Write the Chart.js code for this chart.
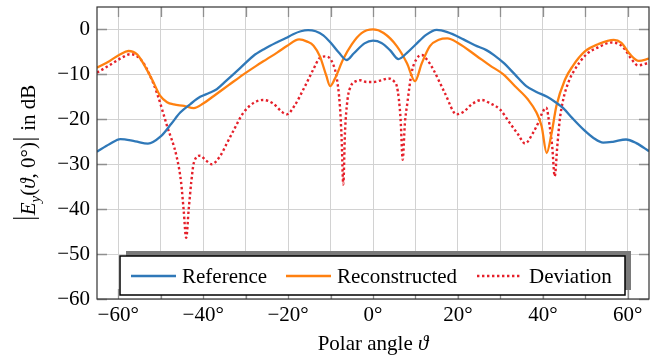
<!DOCTYPE html>
<html>
<head>
<meta charset="utf-8">
<script src="https://cdn.jsdelivr.net/npm/chart.js@4/dist/chart.umd.min.js"></script>
<style>
  html, body { margin: 0; padding: 0; background: #fff; }
  canvas { display: block; }
</style>
</head>
<body>
<canvas id="myChart" width="659" height="360"></canvas>
<script>
// angles in degrees, levels in dB
const refAngle = [-65, -62, -59.5, -56, -53, -50, -47.5, -45.4, -43, -40.7, -38.5, -36.8, -35, -32.9, -30.5, -28.2, -25.5, -22.7, -20.5, -18.8, -17, -15.3, -13.5, -11.7, -10, -8, -6.2, -4.5, -2, 0, 2, 4, 6, 8, 10, 12.5, 15, 17.5, 21.3, 24, 26.7, 28.5, 30.7, 33.4, 36.1, 38.5, 41, 43, 44.8, 47, 49.6, 52, 54.2, 56.5, 59.6, 62, 65];
const refValue = [-27.2, -25.5, -24.4, -24.9, -25.4, -23.8, -21, -18.5, -16.6, -15.0, -14.1, -13.3, -11.8, -10.0, -7.9, -5.9, -4.3, -2.9, -1.9, -1.05, -0.4, -0.15, -0.4, -1.3, -2.9, -5.2, -6.8, -5.3, -3.1, -2.5, -3.0, -4.6, -6.6, -5.2, -3.4, -1.2, -0.1, -0.6, -2.2, -3.5, -4.6, -5.7, -7.4, -10.0, -12.6, -13.9, -15.0, -16.2, -17.5, -19.8, -22.3, -24.2, -25.2, -25.0, -24.5, -25.3, -27.1];

const recAngle = [-65, -62, -59.5, -57.6, -55.5, -54, -52, -50.1, -48.5, -46.9, -44.5, -42.2, -40, -37.5, -34, -30.5, -27.5, -25, -22.5, -20.3, -17.4, -15.5, -14, -12.5, -11, -10.1, -9, -7, -5, -2.7, 0, 2.5, 5.6, 8, 9.9, 11.5, 13.4, 15.5, 17.5, 20, 24.4, 27.5, 30.7, 33.4, 36.5, 38.5, 39.7, 40.9, 42, 43.2, 45.2, 47, 49.9, 53, 56.7, 58.5, 60.5, 62.6, 65];
const recValue = [-8.5, -7.0, -5.5, -4.8, -5.6, -7.7, -11.2, -14.8, -16.2, -16.7, -17.0, -17.5, -16.5, -14.8, -12.4, -10, -8.1, -6.6, -5.1, -3.7, -2.2, -2.7, -3.6, -6.0, -10.3, -12.6, -11.0, -6.6, -3.3, -0.8, 0, -0.8, -3.7, -7.5, -11.5, -7.5, -3.7, -2.3, -2.0, -3.0, -5.9, -8.0, -10.0, -12.6, -15.6, -18.5, -21.5, -27.5, -23.4, -17.0, -11.2, -8.2, -4.9, -3.3, -2.3, -3.0, -5.5, -7.0, -6.5];

const devAngle = [-65, -63, -61.1, -59, -57.2, -55.5, -54.1, -52.5, -50.9, -48.5, -46.2, -45.2, -44.6, -44, -43.4, -42.8, -42.2, -40.7, -39.3, -38, -36, -34.5, -32.9, -30.5, -28, -25.9, -23.5, -21.5, -20.3, -18.5, -16, -14, -12.5, -11, -9.5, -8.5, -7.8, -7.4, -7, -6.6, -6, -5.2, -4, -3.1, -1.5, 0, 2, 3.6, 5, 5.6, 6.1, 6.5, 7, 7.5, 8.1, 9.1, 10.3, 11.5, 12.8, 14.2, 16.9, 19.7, 21.5, 23.2, 25.6, 27.5, 29.9, 32.2, 34.2, 35.8, 37.7, 38.9, 39.7, 40.8, 41.6, 42.2, 42.8, 43.4, 44, 44.8, 46, 47.1, 50.3, 53, 56.2, 58, 59.3, 60.8, 62.4, 65];
const devValue = [-9.6, -8.5, -7.4, -6.2, -5.5, -6.0, -7.4, -10.3, -14.1, -21.5, -28.5, -34, -40.1, -46.4, -40, -34, -29.7, -28.1, -29.2, -30.0, -28.2, -25.5, -22.6, -18.5, -16.3, -15.7, -16.5, -18.3, -18.9, -17.0, -12.6, -8.8, -6.3, -6.0, -7.5, -11, -17, -24, -34.5, -23, -15.6, -12.6, -11.5, -11.3, -11.7, -11.7, -11.3, -10.9, -11.6, -12.6, -15.6, -20, -29, -21, -16.3, -9.6, -6.5, -5.7, -6.8, -8.9, -14.1, -18.9, -18.2, -16.7, -15.7, -16.4, -17.8, -20.8, -23.4, -25.4, -23, -20.8, -18.9, -17.4, -21.5, -26, -32.7, -26, -20, -15.6, -11.8, -9.6, -5.5, -4.0, -2.9, -3.3, -4.4, -6.5, -8.0, -7.4];

const xTicks = [-60, -50, -40, -30, -20, -10, 0, 10, 20, 30, 40, 50, 60];
const yTicks = [-60, -50, -40, -30, -20, -10, 0];
const seriesNames = ['Reference', 'Reconstructed', 'Deviation'];

const BLUE = '#2f78b8';
const ORANGE = '#ff8010';
const RED = '#e5202a';
const SERIF = '"Liberation Serif", "Times New Roman", serif';
const FS = 21;

function pts(xs, ys) {
    return xs.map((x, i) => ({ x: x, y: ys[i] }));
}
function num(v) {
    return v < 0 ? '\u2212' + Math.abs(v) : '' + v;
}

// frame, inner ticks, legend and axis titles
const decor = {
    id: 'decor',
    afterDatasetsDraw(chart) {
        const ctx = chart.ctx;
        const a = chart.chartArea;
        const xs = chart.scales.x, ys = chart.scales.y;
        ctx.save();
        // inner tick marks
        ctx.strokeStyle = '#8f8f8f';
        ctx.lineWidth = 1.3;
        ctx.beginPath();
        xTicks.forEach(v => {
            const px = Math.round(xs.getPixelForValue(v)) + 0.5;
            ctx.moveTo(px, a.top); ctx.lineTo(px, a.top + 10);
            ctx.moveTo(px, a.bottom); ctx.lineTo(px, a.bottom - 10);
        });
        yTicks.forEach(v => {
            const py = Math.round(ys.getPixelForValue(v)) + 0.5;
            ctx.moveTo(a.left, py); ctx.lineTo(a.left + 10, py);
            ctx.moveTo(a.right, py); ctx.lineTo(a.right - 10, py);
        });
        ctx.stroke();
        // frame
        ctx.strokeStyle = '#333';
        ctx.lineWidth = 1.2;
        ctx.strokeRect(a.left, a.top, a.right - a.left, a.bottom - a.top);

        // legend with shadow
        const lx = a.left + 23, ly = a.bottom - 43, lw = a.right - a.left - 47, lh = 39;
        ctx.fillStyle = '#7a7a7a';
        ctx.fillRect(lx + 6, ly - 5, lw, lh);
        ctx.fillStyle = '#fff';
        ctx.fillRect(lx, ly, lw, lh);
        ctx.strokeStyle = '#000';
        ctx.lineWidth = 1.5;
        ctx.strokeRect(lx, ly, lw, lh);
        const cy = ly + 20;
        const items = [
            { c: BLUE, dash: [], x0: 131, x1: 176, tx: 182 },
            { c: ORANGE, dash: [], x0: 286, x1: 331, tx: 337 },
            { c: RED, dash: [2.4, 2.6], x0: 477, x1: 522, tx: 529 }
        ];
        ctx.font = FS + 'px ' + SERIF;
        ctx.textBaseline = 'middle';
        items.forEach((it, i) => {
            ctx.strokeStyle = it.c;
            ctx.lineWidth = 2.4;
            ctx.setLineDash(it.dash);
            ctx.beginPath();
            ctx.moveTo(it.x0, cy); ctx.lineTo(it.x1, cy);
            ctx.stroke();
            ctx.setLineDash([]);
            ctx.fillStyle = '#000';
            ctx.fillText(seriesNames[i], it.tx, cy + 1);
        });

        // x title
        ctx.textAlign = 'left';
        ctx.textBaseline = 'alphabetic';
        ctx.font = FS + 'px ' + SERIF;
        const w1 = ctx.measureText('Polar angle ').width;
        ctx.font = 'italic ' + FS + 'px ' + SERIF;
        const w2 = ctx.measureText('\u03D1').width;
        let sx = 373 - (w1 + w2) / 2;
        ctx.font = FS + 'px ' + SERIF;
        ctx.fillText('Polar angle ', sx, 350);
        ctx.font = 'italic ' + FS + 'px ' + SERIF;
        ctx.fillText('\u03D1', sx + w1, 350);

        // y title, rotated; '|' drawn as tall strokes
        const parts = [
            ['|'], ['E', 'italic 21px', 0], ['y', 'italic 15px', 5],
            ['(', '21px', 0], ['\u03D1', 'italic 21px', 0], [', 0\u00B0)', '21px', 0],
            ['|'], [' in dB', '21px', 0]
        ];
        const wid = p => {
            if (p.length === 1) return 6;
            ctx.font = p[1] + ' ' + SERIF;
            return ctx.measureText(p[0]).width;
        };
        let total = 0;
        parts.forEach(p => { total += wid(p); });
        ctx.translate(35, (a.top + a.bottom) / 2);
        ctx.rotate(-Math.PI / 2);
        let px = -total / 2;
        ctx.fillStyle = '#000';
        ctx.strokeStyle = '#000';
        ctx.lineWidth = 1.1;
        parts.forEach(p => {
            const w = wid(p);
            if (p.length === 1) {
                ctx.beginPath();
                ctx.moveTo(px + 3, 4); ctx.lineTo(px + 3, -22);
                ctx.stroke();
            } else {
                ctx.font = p[1] + ' ' + SERIF;
                ctx.fillText(p[0], px, p[2]);
            }
            px += w;
        });
        ctx.restore();
    }
};

const ctx = document.getElementById('myChart').getContext('2d');
const myChart = new Chart(ctx, {
    type: 'line',
    data: {
        datasets: [
            { label: seriesNames[0], data: pts(refAngle, refValue), borderColor: BLUE, borderWidth: 2.3 },
            { label: seriesNames[1], data: pts(recAngle, recValue), borderColor: ORANGE, borderWidth: 2.3 },
            { label: seriesNames[2], data: pts(devAngle, devValue), borderColor: RED, borderWidth: 2.4, borderDash: [2.4, 2.6] }
        ]
    },
    options: {
        responsive: false,
        animation: false,
        devicePixelRatio: 1,
        layout: { padding: { top: 7, right: 10, left: 0, bottom: 0 } },
        elements: {
            point: { radius: 0 },
            line: { cubicInterpolationMode: 'monotone', fill: false }
        },
        plugins: { legend: { display: false }, tooltip: { enabled: false } },
        scales: {
            x: {
                type: 'linear', min: -65, max: 65,
                afterBuildTicks: s => { s.ticks = xTicks.map(v => ({ value: v })); },
                afterFit: s => { s.height = 61; s.paddingLeft = 0; s.paddingRight = 0; },
                grid: { color: '#d2d2d2', lineWidth: 1, drawTicks: false },
                border: { display: false },
                ticks: {
                    padding: 4, color: '#000', maxRotation: 0, autoSkip: false,
                    font: { family: SERIF, size: FS },
                    callback: v => (v % 20 === 0 ? num(v) + '\u00B0' : '')
                }
            },
            y: {
                type: 'linear', min: -60, max: 5,
                afterBuildTicks: s => { s.ticks = yTicks.map(v => ({ value: v })); },
                afterFit: s => { s.width = 97; s.paddingTop = 0; s.paddingBottom = 0; },
                grid: { color: '#d2d2d2', lineWidth: 1, drawTicks: false },
                border: { display: false },
                ticks: {
                    padding: 7, color: '#000',
                    font: { family: SERIF, size: FS },
                    callback: v => num(v)
                }
            }
        }
    },
    plugins: [decor]
});
</script>
</body>
</html>
